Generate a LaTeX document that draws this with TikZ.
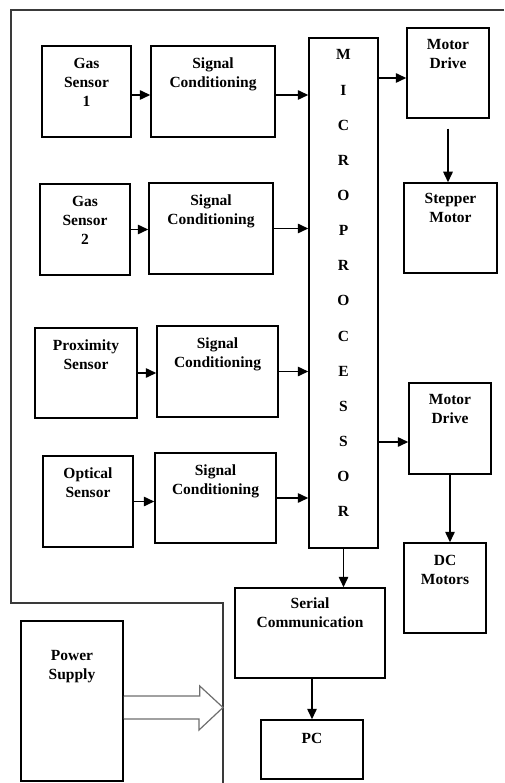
\documentclass[tikz,border=0pt]{standalone}
\usepackage{fontspec}
\setmainfont{Liberation Serif}
\usepackage{tikz}
\usetikzlibrary{arrows.meta}
\definecolor{marco}{HTML}{3A3A3A}
\definecolor{hueco}{HTML}{6E6E6E}

\begin{document}
\begin{tikzpicture}[x=1pt, y=-1pt,
      font=\bfseries\fontsize{15.5}{19}\selectfont,
      >={Triangle[length=10.5pt, width=9.5pt]},
      bx/.style={draw, line width=1.5pt, inner sep=0pt},
      lb/.style={anchor=north, align=center, yshift=#1}, lb/.default=-9pt,
      ar/.style={->, line width=1.5pt}]
    \useasboundingbox (0,0) rectangle (504,783);
    % frame round the board
    \draw[marco, line width=2.4pt] (504,10) -| (11,603) -| (223,783);
    % sensors
    \node[bx, minimum width=89pt, minimum height=91pt, label={[lb]north:Gas\\Sensor\\1}] (gs1) at (86.5,91.5) {};
    \node[bx, minimum width=90pt, minimum height=91pt, label={[lb]north:Gas\\Sensor\\2}] (gs2) at (85,229.5) {};
    \node[bx, minimum width=102pt, minimum height=90pt, label={[lb]north:Proximity\\Sensor}] (prx) at (86,373) {};
    \node[bx, minimum width=90pt, minimum height=91pt, label={[lb]north:Optical\\Sensor}] (opt) at (88,501.5) {};
    % signal conditioning
    \node[bx, minimum width=124pt, minimum height=91pt, label={[lb]north:Signal\\Conditioning}] (sc1) at (213,91.5) {};
    \node[bx, minimum width=124pt, minimum height=91pt, label={[lb]north:Signal\\Conditioning}] (sc2) at (211,228.5) {};
    \node[bx, minimum width=121pt, minimum height=91pt, label={[lb]north:Signal\\Conditioning}] (sc3) at (217.5,371.5) {};
    \node[bx, minimum width=121pt, minimum height=90pt, label={[lb]north:Signal\\Conditioning}] (sc4) at (215.5,498) {};
    % microprocessor
    \node[bx, minimum width=69pt, minimum height=510pt,
          label={[lb, font=\bfseries\fontsize{15.5}{35.15}\selectfont]north:M\\I\\C\\R\\O\\P\\R\\O\\C\\E\\S\\S\\O\\R}] (mp) at (343.5,293) {};
    % motors
    \node[bx, minimum width=82pt, minimum height=90pt, label={[lb]north:Motor\\Drive}] (md1) at (448,73) {};
    \node[bx, minimum width=93pt, minimum height=90pt, label={[lb=-7pt]north:Stepper\\Motor}] (stp) at (450.5,228) {};
    \node[bx, minimum width=82pt, minimum height=91pt, label={[lb]north:Motor\\Drive}] (md2) at (450,428.5) {};
    \node[bx, minimum width=82pt, minimum height=90pt, label={[lb]north:DC\\Motors}] (dcm) at (445,588) {};
    % communication and supply
    \node[bx, minimum width=150pt, minimum height=90pt, label={[lb=-7pt]north:Serial\\Communication}] (ser) at (310,633) {};
    \node[bx, minimum width=102pt, minimum height=59pt, label={[lb=-10pt]north:PC}] (pc) at (312,749.5) {};
    \node[bx, minimum width=102pt, minimum height=160pt, label={[lb=-27pt]north:Power\\Supply}] (ps) at (72,701) {};
    \coordinate (tip) at (223,707.5);
    % connectors
    \draw[ar] ([yshift=-3.5pt]gs1.east) -- ([yshift=-3.5pt]sc1.west);
    \draw[ar] (gs2.east) -- (gs2.east -| sc2.west);
    \draw[ar] (prx.east) -- (prx.east -| sc3.west);
    \draw[ar] (opt.east) -- (opt.east -| sc4.west);
    \draw[ar] ([yshift=-3.5pt]sc1.east) -- ([yshift=-3.5pt]sc1.east -| mp.west);
    \draw[ar] (sc2.east) -- (sc2.east -| mp.west);
    \draw[ar] (sc3.east) -- (sc3.east -| mp.west);
    \draw[ar] (sc4.east) -- (sc4.east -| mp.west);
    \draw[ar] ([yshift=-5pt]md1.west -| mp.east) -- ([yshift=-5pt]md1.west);
    \draw[ar] ([yshift=-10pt]md1.south) -- (md1.south |- stp.north);
    \draw[ar] ([yshift=-13.5pt]md2.west -| mp.east) -- ([yshift=-13.5pt]md2.west);
    \draw[ar] (md2.south) -- (md2.south |- dcm.north);
    \draw[ar] (mp.south) -- (mp.south |- ser.north);
    \draw[ar] (pc.north |- ser.south) -- (pc.north);
    % hollow arrow from the supply
    \draw[hueco, line width=1.2pt, fill=white]
        ([yshift=5pt]ps.east) -- ++(76,0) -- ++(0,-10) -- (tip)
        -- ++(-24,22.5) -- ++(0,-11) -- ([yshift=-18pt]ps.east);
  \end{tikzpicture}
\end{document}
